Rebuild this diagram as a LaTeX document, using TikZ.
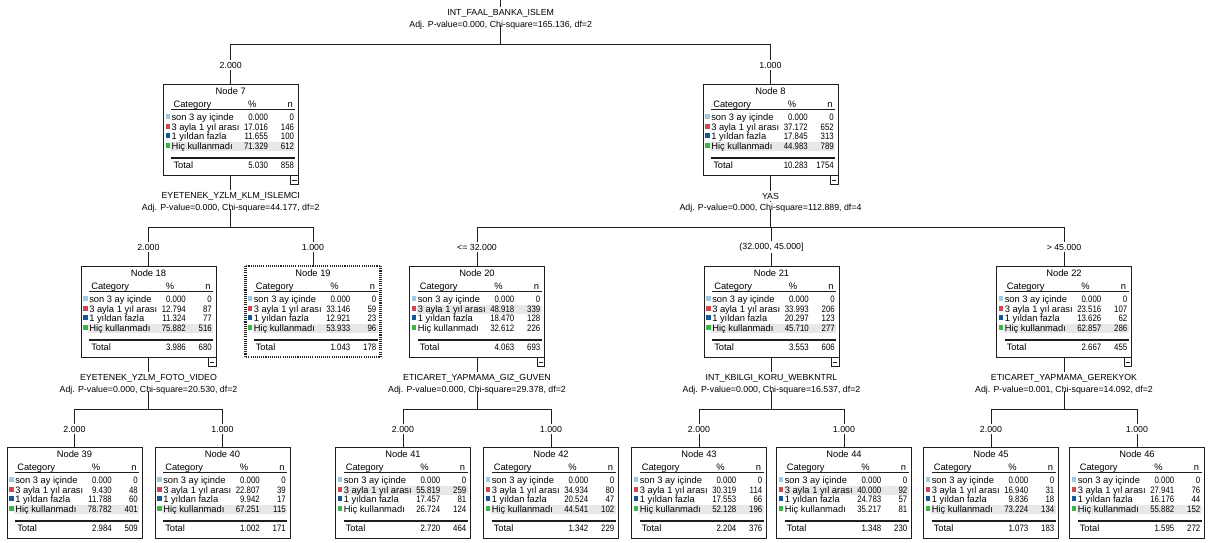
\documentclass[tikz,border=0pt]{standalone}
\usepackage{fontspec}
\setmainfont{Liberation Sans}
\newfontfamily\numfam[FakeStretch=0.84]{Liberation Sans}
\definecolor{cA}{RGB}{160,200,225}
\definecolor{cB}{RGB}{205,72,82}
\definecolor{cC}{RGB}{25,88,150}
\definecolor{cD}{RGB}{60,180,70}
\definecolor{hlgray}{RGB}{232,232,232}
\definecolor{lnc}{RGB}{30,30,30}
\newcommand\tabfont{\fontsize{7}{8}\selectfont}
\newcommand\numfont{\numfam\fontsize{7}{8}\selectfont}
\newcommand\lblfont{\fontsize{6.6}{7.6}\selectfont}
\def\splitpn#1/#2\relax{\def\pv{#1}\def\nv{#2}}
\tikzset{
  txt/.style={inner sep=0pt, font=\tabfont, text=black},
  num/.style={inner sep=0pt, font=\numfont, text=black, anchor=base east},
  nbox/.style={rectangle, draw=lnc, line width=0.75pt, fill=white, minimum width=101.25pt, minimum height=68.25pt, inner sep=0pt, outer sep=0pt},
  conn/.style={draw=lnc, line width=0.75pt},
  elab/.style={txt, font=\lblfont, fill=white, inner xsep=1pt, inner ysep=1.5pt},
  slab/.style={txt, font=\lblfont, fill=white, inner xsep=1pt, inner ysep=1.6pt},
}
\newcommand\trow[8]{%
  \fill[#5] (#3+2.3,#4-6.2) rectangle (#3+6.8,#4-1.4);
  \node[txt,anchor=base west] (#1-l#2) at (#3+8,#4) {#6};
  \node[num] (#1-p#2) at (#3+105,#4) {#7};
  \node[num] (#1-n#2) at (#3+131,#4) {#8};
}
\newcommand\tnode[9]{%
  \pgfmathsetmacro\NdL{#2-67.5}%
  \node[nbox] (#1) at (#2,#3+45.5) {};
  \fill[hlgray] (\NdL+7,#3+#5) rectangle (\NdL+132,#3+#5+9);
  \node[txt,anchor=base] (#1-t) at (#2,#3+10.8) {Node #4};
  \node[txt,anchor=base west] (#1-c) at (\NdL+10,#3+23) {Category};
  \node[txt,anchor=base] (#1-ph) at (\NdL+89,#3+23) {\%};
  \node[txt,anchor=base] (#1-nh) at (\NdL+127,#3+23) {n};
  \draw[conn] (\NdL+8,#3+25) -- (\NdL+132,#3+25);
  \trow{#1}{1}{\NdL}{#3+36.5}{cA}{son 3 ay içinde}{0.000}{0}
  \splitpn#6\relax
  \trow{#1}{2}{\NdL}{#3+46}{cB}{3 ayla 1 yıl arası}{\pv}{\nv}
  \splitpn#7\relax
  \trow{#1}{3}{\NdL}{#3+55.5}{cC}{1 yıldan fazla}{\pv}{\nv}
  \splitpn#8\relax
  \trow{#1}{4}{\NdL}{#3+65}{cD}{Hiç kullanmadı}{\pv}{\nv}
  \draw[lnc, line width=1.5pt] (\NdL+8,#3+73.8) -- (\NdL+132,#3+73.8);
  \splitpn#9\relax
  \node[txt,anchor=base west] (#1-tl) at (\NdL+10,#3+84.3) {Total};
  \node[num] (#1-tp) at (\NdL+105,#3+84.3) {\pv};
  \node[num] (#1-tn) at (\NdL+131,#3+84.3) {\nv};
}
\newcommand\minusicon[1]{%
  \draw[conn, line width=0.6pt, fill=white] ([shift={(-7.5,0.5)}]#1.south east) rectangle ([shift={(0,9.5)}]#1.south east);
  \draw[conn, line width=0.6pt] ([shift={(-5.8,5.5)}]#1.south east) -- ([shift={(-1.7,5.5)}]#1.south east);
}
\begin{document}
\begin{tikzpicture}[x=0.75pt,y=-0.75pt]
\useasboundingbox (0,0) rectangle (1208,543);
\fill[white] (0,0) rectangle (1208,543);
% levels
\coordinate (H0) at (0,44);
\coordinate (H1) at (0,227);
\coordinate (H2) at (0,409);
\coordinate (E0) at (0,65);
\coordinate (E1) at (0,247);
\coordinate (E2) at (0,429);
\coordinate (SA1) at (0,196);
\coordinate (SB1) at (0,208.5);
\coordinate (SA2) at (0,378);
\coordinate (SB2) at (0,390.5);
% tree nodes
\tnode{N7}{230.75}{84}{7}{58.3}{17.016/146}{11.655/100}{71.329/612}{5.030/858}
\tnode{N8}{770.5}{84}{8}{58.3}{37.172/652}{17.845/313}{44.983/789}{10.283/1754}
\tnode{N18}{148.5}{266}{18}{58.3}{12.794/87}{11.324/77}{75.882/516}{3.986/680}
\tnode{N19}{313}{266}{19}{58.3}{33.146/59}{12.921/23}{53.933/96}{1.043/178}
\tnode{N20}{477}{266}{20}{39.3}{48.918/339}{18.470/128}{32.612/226}{4.063/693}
\tnode{N21}{771.5}{266}{21}{58.3}{33.993/206}{20.297/123}{45.710/277}{3.553/606}
\tnode{N22}{1064}{266}{22}{58.3}{23.516/107}{13.626/62}{62.857/286}{2.667/455}
\tnode{N39}{74.5}{447}{39}{58.3}{9.430/48}{11.788/60}{78.782/401}{2.984/509}
\tnode{N40}{222.5}{447}{40}{58.3}{22.807/39}{9.942/17}{67.251/115}{1.002/171}
\tnode{N41}{403}{447}{41}{39.3}{55.819/259}{17.457/81}{26.724/124}{2.720/464}
\tnode{N42}{551}{447}{42}{58.3}{34.934/80}{20.524/47}{44.541/102}{1.342/229}
\tnode{N43}{699}{447}{43}{58.3}{30.319/114}{17.553/66}{52.128/196}{2.204/376}
\tnode{N44}{844}{447}{44}{39.3}{40.000/92}{24.783/57}{35.217/81}{1.348/230}
\tnode{N45}{991}{447}{45}{58.3}{16.940/31}{9.836/18}{73.224/134}{1.073/183}
\tnode{N46}{1137}{447}{46}{58.3}{27.941/76}{16.176/44}{55.882/152}{1.595/272}
% selected node frame
\draw[white, line width=2.2pt] (N19.north west) rectangle (N19.south east);
\draw[black!85, line width=2.2pt, dash pattern=on 0.8pt off 0.8pt] (N19.north west) rectangle (N19.south east);
% collapse icons
\minusicon{N7}\minusicon{N8}\minusicon{N18}\minusicon{N20}\minusicon{N21}\minusicon{N22}
% connectors: root
\coordinate (R0) at (500.75,0);
\draw[conn] (R0) -- (R0 |- H0);
\draw[conn] (N7.north |- H0) -- (N8.north |- H0);
\draw[conn] (N7.north |- H0) -- (N7.north);
\draw[conn] (N8.north |- H0) -- (N8.north);
% N7
\draw[conn] (N7.south) -- (N7.south |- H1);
\draw[conn] (N18.north |- H1) -- (N19.north |- H1);
\draw[conn] (N18.north |- H1) -- (N18.north);
\draw[conn] (N19.north |- H1) -- (N19.north);
% N8
\draw[conn] (N8.south) -- (N8.south |- H1);
\draw[conn] (N20.north |- H1) -- (N22.north |- H1);
\draw[conn] (N20.north |- H1) -- (N20.north);
\draw[conn] (N21.north |- H1) -- (N21.north);
\draw[conn] (N22.north |- H1) -- (N22.north);
% N18
\draw[conn] (N18.south) -- (N18.south |- H2);
\draw[conn] (N39.north |- H2) -- (N40.north |- H2);
\draw[conn] (N39.north |- H2) -- (N39.north);
\draw[conn] (N40.north |- H2) -- (N40.north);
% N20
\draw[conn] (N20.south) -- (N20.south |- H2);
\draw[conn] (N41.north |- H2) -- (N42.north |- H2);
\draw[conn] (N41.north |- H2) -- (N41.north);
\draw[conn] (N42.north |- H2) -- (N42.north);
% N21
\draw[conn] (N21.south) -- (N21.south |- H2);
\draw[conn] (N43.north |- H2) -- (N44.north |- H2);
\draw[conn] (N43.north |- H2) -- (N43.north);
\draw[conn] (N44.north |- H2) -- (N44.north);
% N22
\draw[conn] (N22.south) -- (N22.south |- H2);
\draw[conn] (N45.north |- H2) -- (N46.north |- H2);
\draw[conn] (N45.north |- H2) -- (N45.north);
\draw[conn] (N46.north |- H2) -- (N46.north);
% edge labels
\node[elab] (e7) at (N7.north |- E0) {2.000};
\node[elab] (e8) at (N8.north |- E0) {1.000};
\node[elab] (e18) at (N18.north |- E1) {2.000};
\node[elab] (e19) at (N19.north |- E1) {1.000};
\node[elab] (e20) at (N20.north |- E1) {<= 32.000};
\node[elab] (e21) at (N21.north |- E1) {(32.000, 45.000]};
\node[elab] (e22) at (N22.north |- E1) {> 45.000};
\node[elab] (e39) at (N39.north |- E2) {2.000};
\node[elab] (e40) at (N40.north |- E2) {1.000};
\node[elab] (e41) at (N41.north |- E2) {2.000};
\node[elab] (e42) at (N42.north |- E2) {1.000};
\node[elab] (e43) at (N43.north |- E2) {2.000};
\node[elab] (e44) at (N44.north |- E2) {1.000};
\node[elab] (e45) at (N45.north |- E2) {2.000};
\node[elab] (e46) at (N46.north |- E2) {1.000};
% split labels
\node[slab] (s0a) at (500.75,13) {INT\_FAAL\_BANKA\_ISLEM};
\node[slab] (s0b) at (500.75,25) {Adj. P-value=0.000, Chi-square=165.136, df=2};
\draw[conn] (s0b.center) -- (s0b.center |- H0);
\node[slab] (s7a) at (N7.south |- SA1) {EYETENEK\_YZLM\_KLM\_ISLEMCI};
\node[slab] (s7b) at (N7.south |- SB1) {Adj. P-value=0.000, Chi-square=44.177, df=2};
\draw[conn] (s7b.center) -- (s7b.center |- H1);
\node[slab] (s8a) at (N8.south |- SA1) {YAS};
\node[slab] (s8b) at (N8.south |- SB1) {Adj. P-value=0.000, Chi-square=112.889, df=4};
\draw[conn] (s8b.center) -- (s8b.center |- H1);
\node[slab] (s18a) at (N18.south |- SA2) {EYETENEK\_YZLM\_FOTO\_VIDEO};
\node[slab] (s18b) at (N18.south |- SB2) {Adj. P-value=0.000, Chi-square=20.530, df=2};
\draw[conn] (s18b.center) -- (s18b.center |- H2);
\node[slab] (s20a) at (N20.south |- SA2) {ETICARET\_YAPMAMA\_GIZ\_GUVEN};
\node[slab] (s20b) at (N20.south |- SB2) {Adj. P-value=0.000, Chi-square=29.378, df=2};
\draw[conn] (s20b.center) -- (s20b.center |- H2);
\node[slab] (s21a) at (N21.south |- SA2) {INT\_KBILGI\_KORU\_WEBKNTRL};
\node[slab] (s21b) at (N21.south |- SB2) {Adj. P-value=0.000, Chi-square=16.537, df=2};
\draw[conn] (s21b.center) -- (s21b.center |- H2);
\node[slab] (s22a) at (N22.south |- SA2) {ETICARET\_YAPMAMA\_GEREKYOK};
\node[slab] (s22b) at (N22.south |- SB2) {Adj. P-value=0.001, Chi-square=14.092, df=2};
\draw[conn] (s22b.center) -- (s22b.center |- H2);
\end{tikzpicture}
\end{document}
